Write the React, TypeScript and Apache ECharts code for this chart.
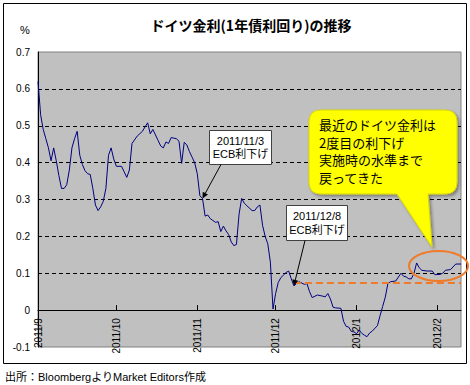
import React, { useEffect, useRef } from "react";
import * as echarts from "echarts";

// ---- data -------------------------------------------------------------
const CATEGORY_START = "2011/9/1";
const CATEGORY_END = "2012/2/10";

const dates = [
  "2011/9/1", "2011/9/2", "2011/9/3", "2011/9/4", "2011/9/5", "2011/9/6", "2011/9/7", "2011/9/8",
  "2011/9/9", "2011/9/10", "2011/9/11", "2011/9/12", "2011/9/13", "2011/9/14", "2011/9/15", "2011/9/16",
  "2011/9/17", "2011/9/18", "2011/9/19", "2011/9/20", "2011/9/21", "2011/9/22", "2011/9/23", "2011/9/24",
  "2011/9/25", "2011/9/26", "2011/9/27", "2011/9/28", "2011/9/29", "2011/9/30",
  "2011/10/1", "2011/10/3", "2011/10/4", "2011/10/5", "2011/10/6", "2011/10/7", "2011/10/9", "2011/10/11",
  "2011/10/12", "2011/10/13", "2011/10/14", "2011/10/15", "2011/10/17", "2011/10/18", "2011/10/19", "2011/10/20",
  "2011/10/21", "2011/10/22", "2011/10/24", "2011/10/25", "2011/10/26", "2011/10/27", "2011/10/28", "2011/10/29",
  "2011/10/30", "2011/10/31",
  "2011/11/1", "2011/11/2", "2011/11/3", "2011/11/4", "2011/11/5", "2011/11/6", "2011/11/7", "2011/11/8",
  "2011/11/9", "2011/11/10", "2011/11/11", "2011/11/12", "2011/11/13", "2011/11/14", "2011/11/15", "2011/11/16",
  "2011/11/17", "2011/11/18", "2011/11/19", "2011/11/20", "2011/11/22", "2011/11/23", "2011/11/24", "2011/11/25",
  "2011/11/26", "2011/11/27", "2011/11/28", "2011/11/29", "2011/11/30",
  "2011/12/1", "2011/12/2", "2011/12/3", "2011/12/4", "2011/12/5", "2011/12/6", "2011/12/7", "2011/12/8",
  "2011/12/9", "2011/12/10", "2011/12/12", "2011/12/13", "2011/12/14", "2011/12/15", "2011/12/17", "2011/12/19",
  "2011/12/20", "2011/12/21", "2011/12/22", "2011/12/23", "2011/12/24", "2011/12/26", "2011/12/27", "2011/12/28",
  "2011/12/29", "2011/12/30", "2011/12/31",
  "2012/1/1", "2012/1/2", "2012/1/3", "2012/1/4", "2012/1/5", "2012/1/6", "2012/1/7", "2012/1/9",
  "2012/1/10", "2012/1/11", "2012/1/12", "2012/1/13", "2012/1/14", "2012/1/16", "2012/1/18", "2012/1/19",
  "2012/1/20", "2012/1/21", "2012/1/22", "2012/1/23", "2012/1/24", "2012/1/25", "2012/1/26", "2012/1/28",
  "2012/1/30", "2012/1/31",
  "2012/2/2", "2012/2/3", "2012/2/4", "2012/2/6", "2012/2/8", "2012/2/10",
];

const yields = [
  0.62, 0.53, 0.49, 0.465, 0.44, 0.405, 0.44, 0.405,
  0.365, 0.33, 0.33, 0.34, 0.38, 0.44, 0.465, 0.485,
  0.42, 0.395, 0.378, 0.37, 0.368, 0.33, 0.285, 0.27,
  0.28, 0.295, 0.33, 0.42, 0.44, 0.41,
  0.39, 0.39, 0.375, 0.36, 0.38, 0.452, 0.472, 0.485,
  0.497, 0.508, 0.478, 0.49, 0.46, 0.445, 0.44, 0.456,
  0.452, 0.468, 0.465, 0.458, 0.398, 0.455, 0.448, 0.43,
  0.415, 0.4,
  0.37, 0.31, 0.303, 0.255, 0.258, 0.248, 0.243, 0.238,
  0.24, 0.213, 0.228, 0.215, 0.205, 0.185, 0.175, 0.178,
  0.26, 0.303, 0.29, 0.283, 0.27, 0.27, 0.28, 0.285,
  0.23, 0.2, 0.18, 0.13, 0.003,
  0.045, 0.075, 0.088, 0.095, 0.102, 0.106, 0.085, 0.066,
  0.072, 0.077, 0.07, 0.072, 0.05, 0.034, 0.041, 0.038,
  0.036, 0.045, 0.03, 0.008, 0.006, 0.005, -0.03, -0.044,
  -0.046, -0.058, -0.059,
  -0.064, -0.054, -0.063, -0.068, -0.072, -0.062, -0.057, -0.042,
  -0.015, 0.01, 0.035, 0.072, 0.077, 0.079, 0.1, 0.092,
  0.09, 0.085, 0.085, 0.1, 0.128, 0.115, 0.108, 0.106,
  0.106, 0.096,
  0.097, 0.1, 0.108, 0.11, 0.125, 0.125,
];

const yMin = -0.1;
const yMax = 0.7;
const yStep = 0.1;

const cutDates = ["2011/11/3", "2011/12/8"];
const cutNotes = ["2011/11/3\nECB利下げ", "2011/12/8\nECB利下げ"];
const recentLevel = 0.075;

const titleText = "ドイツ金利(1年債利回り)の推移";
const unitText = "%";
const calloutLines = ["最近のドイツ金利は", "2度目の利下げ", "実施時の水準まで", "戻ってきた"];
const sourceText = "出所：BloombergよりMarket Editors作成";

// ---- styling ----------------------------------------------------------
const LATIN = '"Liberation Sans", Arial, "Noto Sans CJK JP", sans-serif';
const CJK = '"Noto Sans CJK JP", "Liberation Sans", sans-serif';
const ORANGE = "#F07A28";
const LINE = "#000080";
const GRID = { left: 38, right: 9, top: 52, bottom: 38 };
const CHART_H = 385;

const CALLOUT_PATH =
  "M321,110 L445,110 Q457,110 457,122 L457,182 Q457,194 445,194 L428,194 L432,247 L397,194 L321,194 Q309,194 309,182 L309,122 Q309,110 321,110 Z";
echarts.graphic.registerShape("calloutBubble", echarts.graphic.extendPath(CALLOUT_PATH, {}) as any);

function buildDays(start: string, end: string): string[] {
  const [sy, sm, sd] = start.split("/").map(Number);
  const [ey, em, ed] = end.split("/").map(Number);
  let t = Date.UTC(sy, sm - 1, sd);
  const e = Date.UTC(ey, em - 1, ed);
  const out: string[] = [];
  while (t <= e) {
    const d = new Date(t);
    out.push(`${d.getUTCFullYear()}/${d.getUTCMonth() + 1}/${d.getUTCDate()}`);
    t += 86400000;
  }
  return out;
}

function txt(x: number, y: number, text: string, font: string, align: string, vAlign: string, extra: any = {}) {
  return {
    type: "text",
    x,
    y,
    z: 10,
    silent: true,
    style: {
      text,
      font,
      fill: "#000",
      align,
      textAlign: align,
      verticalAlign: vAlign,
      textVerticalAlign: vAlign,
      ...extra,
    },
  };
}

function arrow(x1: number, y1: number, x2: number, y2: number) {
  const dx = x2 - x1;
  const dy = y2 - y1;
  const L = Math.hypot(dx, dy);
  const ux = dx / L;
  const uy = dy / L;
  const hl = 6;
  const hw = 3;
  const bx = x2 - ux * hl;
  const by = y2 - uy * hl;
  return [
    { type: "line", z: 10, silent: true, shape: { x1, y1, x2: bx, y2: by }, style: { stroke: "#000", lineWidth: 1 } },
    {
      type: "polygon",
      z: 10,
      silent: true,
      shape: { points: [[x2, y2], [bx - uy * hw, by + ux * hw], [bx + uy * hw, by - ux * hw]] },
      style: { fill: "#000" },
    },
  ];
}

function noteBox(x: number, y: number, w: number, h: number, text: string) {
  return [
    {
      type: "rect",
      z: 10,
      silent: true,
      shape: { x: x + 0.5, y: y + 0.5, width: w, height: h },
      style: { fill: "#fff", stroke: "#404040", lineWidth: 1 },
    },
    txt(x + w / 2 + 0.5, y + h / 2 + 0.5, text, `11px ${LATIN}`, "center", "middle", { lineHeight: 13.5 }),
  ];
}

export default function App() {
  const ref = useRef<HTMLDivElement>(null);

  useEffect(() => {
    document.body.style.margin = "0";
    const chart = echarts.init(ref.current!, null, { renderer: "svg" });

    const days = buildDays(CATEGORY_START, CATEGORY_END);
    const lookup = new Map<string, number>(dates.map((d, i) => [d, yields[i]]));
    const seriesData = days.map((d) => (lookup.has(d) ? lookup.get(d)! : null));
    const isMonthStart = (v: string) => v.split("/")[2] === "1";
    const tickCount = Math.round((yMax - yMin) / yStep) + 1;
    const splitColors = Array.from({ length: tickCount }, (_, i) =>
      i === 0 || i === tickCount - 1 ? "rgba(0,0,0,0)" : "#000"
    );
    // the category axis sits on the zero line (offset from grid bottom)
    const plotH = CHART_H - GRID.top - GRID.bottom;
    const zeroOffset = -plotH * ((0 - yMin) / (yMax - yMin));

    chart.setOption({
      animation: false,
      textStyle: { fontFamily: LATIN },
      grid: {
        ...GRID,
        show: true,
        backgroundColor: "#C0C0C0",
        borderColor: "#808080",
        borderWidth: 1,
      },
      xAxis: {
        type: "category",
        data: days,
        boundaryGap: false,
        position: "bottom",
        offset: zeroOffset,
        axisLine: { onZero: false, lineStyle: { color: "#000", width: 1 } },
        axisTick: {
          inside: true,
          length: 5,
          interval: (_i: number, v: string) => isMonthStart(v),
          lineStyle: { color: "#000" },
        },
        axisLabel: {
          interval: (_i: number, v: string) => isMonthStart(v),
          rotate: 90,
          margin: 8,
          fontSize: 10,
          color: "#000",
          fontFamily: LATIN,
          formatter: (v: string) => v.split("/").slice(0, 2).join("/"),
        },
        splitLine: { show: false },
      },
      yAxis: {
        type: "value",
        min: yMin,
        max: yMax,
        interval: yStep,
        axisLine: { show: true, onZero: false, lineStyle: { color: "#000", width: 1 } },
        axisTick: { show: false },
        axisLabel: {
          fontSize: 10,
          color: "#000",
          margin: 8,
          fontFamily: LATIN,
          formatter: (v: number) => String(Math.round(v * 10) / 10),
        },
        splitLine: { show: true, lineStyle: { color: splitColors, type: [4, 3], width: 1 } },
      },
      series: [
        {
          type: "line",
          data: seriesData,
          connectNulls: true,
          showSymbol: false,
          symbol: "none",
          lineStyle: { color: LINE, width: 1 },
          z: 3,
          markLine: {
            silent: true,
            symbol: ["none", "none"],
            label: { show: false },
            lineStyle: { color: ORANGE, type: [7, 4], width: 2 },
            data: [
              [
                { coord: [days.indexOf(cutDates[1]), recentLevel] },
                { coord: [days.length - 1, recentLevel] },
              ],
            ],
          },
        },
      ],
    });

    const tip = (d: string) =>
      chart.convertToPixel({ gridIndex: 0 } as any, [days.indexOf(d), lookup.get(d)!]) as number[];
    const t1 = tip(cutDates[0]);
    const t2 = tip(cutDates[1]);

    chart.setOption({
      graphic: [
        {
          type: "rect",
          z: 10,
          silent: true,
          shape: { x: 3.5, y: 3.5, width: 463, height: 360 },
          style: { fill: "none", stroke: "#000", lineWidth: 1 },
        },
        txt(251, 25, titleText, `bold 14px ${CJK}`, "center", "middle"),
        txt(25, 30, unitText, `11px ${LATIN}`, "center", "middle"),
        {
          type: "calloutBubble",
          z: 10,
          silent: true,
          x: 0,
          y: 0,
          style: {
            fill: "#FFFF00",
            stroke: "#D8D800",
            lineWidth: 1,
            shadowColor: "rgba(0,0,0,0.35)",
            shadowBlur: 3,
            shadowOffsetX: 2,
            shadowOffsetY: 2,
          },
        },
        ...calloutLines.map((line, i) => txt(319, 124.5 + i * 17.5, line, `13px ${CJK}`, "left", "middle")),
        {
          type: "ellipse",
          z: 10,
          silent: true,
          shape: { cx: 438.5, cy: 266, rx: 29.5, ry: 15 },
          style: { fill: "none", stroke: ORANGE, lineWidth: 2 },
        },
        ...noteBox(209, 130, 62, 34, cutNotes[0]),
        ...arrow(221, 164.5, t1[0], t1[1]),
        ...noteBox(286, 205, 61, 35, cutNotes[1]),
        ...arrow(305, 240.5, t2[0], t2[1]),
        txt(5, 377, sourceText, `11px ${LATIN}`, "left", "middle"),
      ],
    });

    return () => chart.dispose();
  }, []);

  return <div ref={ref} style={{ width: 470, height: 385 }} />;
}
